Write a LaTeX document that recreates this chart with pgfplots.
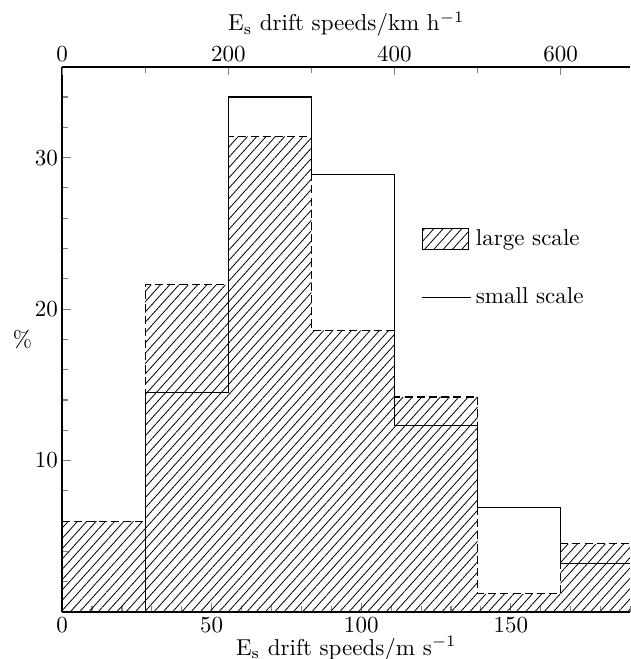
\documentclass[border=0pt]{standalone}
\usepackage{pgfplots}
\pgfplotsset{compat=1.18}
\usetikzlibrary{patterns.meta}
\begin{document}
\begin{tikzpicture}
\tikzset{hatch/.style={pattern={Lines[angle=48,distance=3pt,line width=0.35pt]}}}
\begin{axis}[
  name=main,
  scale only axis, width=247pt, height=237pt,
  xmin=0, xmax=190, ymin=0, ymax=36,
  axis x line=bottom, axis y line=left,
  axis line style={-, line width=0.7pt},
  xtick={0,50,100,150}, minor xtick={10,20,...,190},
  ytick={10,20,30}, minor ytick={2,4,...,36},
  tick align=inside,
  major tick length=3.8pt, minor tick length=2.6pt,
  tick style={line width=0.5pt},
  xticklabel style={yshift=1.3pt},
  yticklabel style={xshift=1.7pt},
  xlabel={E$_\mathrm{s}$ drift speeds/m s$^{-1}$},
  xlabel style={yshift=5pt},
  ylabel={\%}, ylabel style={at={(axis description cs:-0.07,0.5)}, anchor=center, rotate=-90},
  legend style={draw=none, fill=none, at={(0.62,0.72)}, anchor=north west,
    row sep=13pt, cells={anchor=west}},
]
\addplot[hatch, draw=none, const plot, forget plot] coordinates {
  (0,6.0) (27.78,21.6) (55.56,31.4) (83.33,18.6) (111.11,14.2) (138.89,1.2) (166.67,4.5) (190,4.5)} \closedcycle;
\addplot[const plot, line width=0.5pt, dash pattern=on 3.5pt off 1.8pt, forget plot] coordinates {
  (0,6.0) (27.78,21.6) (55.56,31.4) (83.33,18.6) (111.11,14.2) (138.89,1.2) (166.67,4.5) (190,4.5)};
\addplot[const plot, line width=0.5pt, forget plot] coordinates {
  (0,0) (27.78,14.5) (55.56,34.0) (83.33,28.9) (111.11,12.3) (138.89,6.9) (166.67,3.2) (190,3.2)};
\addlegendimage{legend image code/.code={\fill[hatch] (0pt,-4.5pt) rectangle (20pt,4.5pt);}}
\addlegendentry{large scale}
\addlegendimage{legend image code/.code={\draw[line width=0.5pt] (0pt,0pt) -- (21pt,0pt);}}
\addlegendentry{small scale}
\end{axis}
\begin{axis}[
  scale only axis, width=247pt, height=237pt,
  xmin=0, xmax=684, ymin=0, ymax=36,
  axis x line=top, hide y axis,
  axis line style={-, line width=0.7pt},
  xtick={0,200,400,600}, minor xtick={100,300,500},
  tick align=inside,
  major tick length=3.8pt, minor tick length=2.6pt,
  tick style={line width=0.5pt},
  xticklabel style={yshift=-1.2pt},
  xlabel={E$_\mathrm{s}$ drift speeds/km h$^{-1}$},
  xlabel style={yshift=-2.5pt},
]
\end{axis}
\pgfresetboundingbox
\useasboundingbox (main.south west) ++(-27pt,-20.4pt) rectangle ++(274pt,286.4pt);
\end{tikzpicture}
\end{document}
